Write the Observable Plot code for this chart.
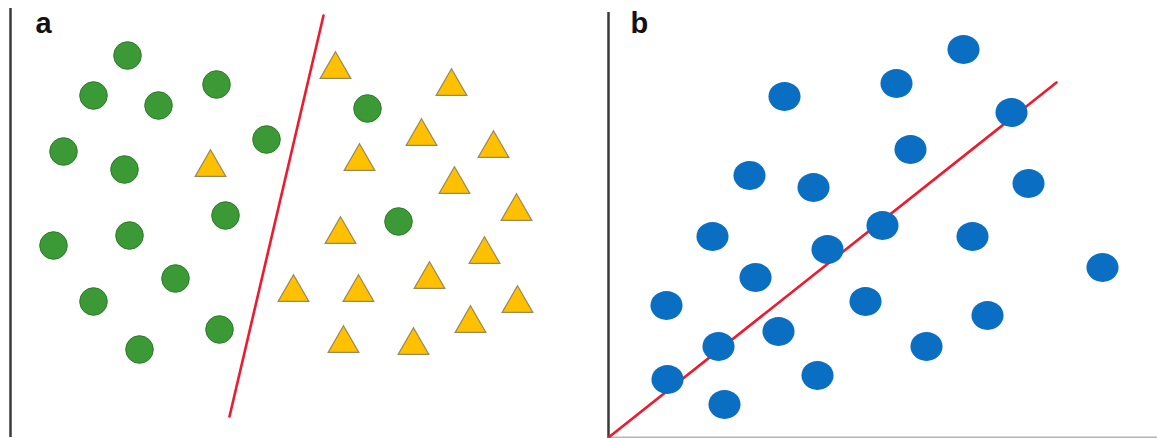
<!DOCTYPE html>
<html><head><meta charset="utf-8">
<script src="https://cdn.jsdelivr.net/npm/d3@7"></script>
<script src="https://cdn.jsdelivr.net/npm/@observablehq/plot@0.6"></script>
<style>
html,body{margin:0;padding:0;background:#fff;}
#wrap{display:flex;width:1157px;height:438px;overflow:hidden;background:#fff;}
</style></head><body><div id="wrap"></div>
<script>
// Panel labels
const panelLabels = ["a", "b"];

// Panel a: class 1 (green circles)
const greenX = [117, 83, 148, 206, 53, 114, 256, 215, 357, 388, 43, 119, 165, 83, 209, 129];
const greenY = [382, 342, 332, 353, 286, 268, 298, 222, 329, 216, 192, 202, 159, 136, 108, 88];

// Panel a: class 2 (yellow triangles)
const triX = [200, 325, 441, 411, 483, 349, 444, 506, 330, 474, 419, 283, 348, 507, 460, 333, 403];
const triY = [270, 368, 351, 301, 289, 276, 253, 226, 203, 183, 158, 145, 145, 134, 114, 94, 92];

// Panel a: separating line
const boundaryX = [219, 313];
const boundaryY = [21, 422];

// Panel b: blue points
const blueX = [176, 141, 205, 355, 288, 403, 302, 420, 274, 104, 219, 147, 58, 257, 170, 110, 59, 209, 116, 364, 494, 379, 318];
const blueY = [341, 262, 250, 388, 354, 325, 288, 254, 212, 201, 188, 160, 132, 136, 106, 91, 58, 62, 33, 201, 170, 122, 91];

// Panel b: regression line
const fitX = [0, 448];
const fitY = [0, 355];

const green = greenX.map((x, i) => ({x, y: greenY[i]}));
const tris = triX.map((x, i) => ({x, y: triY[i]}));
const boundary = boundaryX.map((x, i) => ({x, y: boundaryY[i]}));
const blue = blueX.map((x, i) => ({x, y: blueY[i]}));
const fit = fitX.map((x, i) => ({x, y: fitY[i]}));

// slightly wide ellipse symbol (as in the reference's blue markers)
const ellipseSymbol = {
  draw(ctx, size) {
    const r = Math.sqrt(size / Math.PI);
    const rx = r * 1.07, ry = r * 0.96, k = 0.5523;
    ctx.moveTo(rx, 0);
    ctx.bezierCurveTo(rx, ry * k, rx * k, ry, 0, ry);
    ctx.bezierCurveTo(-rx * k, ry, -rx, ry * k, -rx, 0);
    ctx.bezierCurveTo(-rx, -ry * k, -rx * k, -ry, 0, -ry);
    ctx.bezierCurveTo(rx * k, -ry, rx, -ry * k, rx, 0);
    ctx.closePath();
  }
};

const common = {
  height: 438,
  marginTop: 0,
  marginBottom: 1,
  marginLeft: 10,
  x: {domain: [0, 549], axis: null},
  y: {domain: [0, 437], axis: null},
  style: {background: "#fff", overflow: "visible"}
};

const labelFont = {fontFamily: "Liberation Sans, Arial, sans-serif", fontWeight: "bold", fontSize: 29, fill: "#111", textAnchor: "start"};

const plotA = Plot.plot({
  ...common,
  width: 598,
  marginRight: 39,
  marks: [
    Plot.ruleX([0], {y1: 0, y2: 429, stroke: "#3a3a3a", strokeWidth: 2.5}),
    Plot.line(boundary, {x: "x", y: "y", stroke: "#ee1b2e", strokeWidth: 2.6}),
    Plot.dot(green, {x: "x", y: "y", r: 13.8, fill: "#3b9a35", stroke: "#2c7a2a", strokeWidth: 1}),
    Plot.dot(tris, {x: "x", y: "y", symbol: "triangle", r: 11.4, fill: "#ffc000", stroke: "#9a8858", strokeWidth: 1.2}),
    Plot.text([panelLabels[0]], {x: () => 25, y: () => 414, text: d => d, ...labelFont})
  ]
});

const plotB = Plot.plot({
  ...common,
  width: 559,
  marginRight: 0,
  marks: [
    Plot.ruleX([0], {y1: 0, y2: 425, stroke: "#3a3a3a", strokeWidth: 2.5}),
    Plot.ruleY([0], {x1: 0, x2: 549, stroke: "#b5b5b5", strokeWidth: 2}),
    Plot.line(fit, {x: "x", y: "y", stroke: "#ee1b2e", strokeWidth: 2.6}),
    Plot.dot(blue, {x: "x", y: "y", r: 15, symbol: ellipseSymbol, fill: "#0a6fc2", stroke: "none"}),
    Plot.text([panelLabels[1]], {x: () => 22, y: () => 414, text: d => d, ...labelFont})
  ]
});

document.getElementById("wrap").append(plotA, plotB);
</script>
</body></html>
